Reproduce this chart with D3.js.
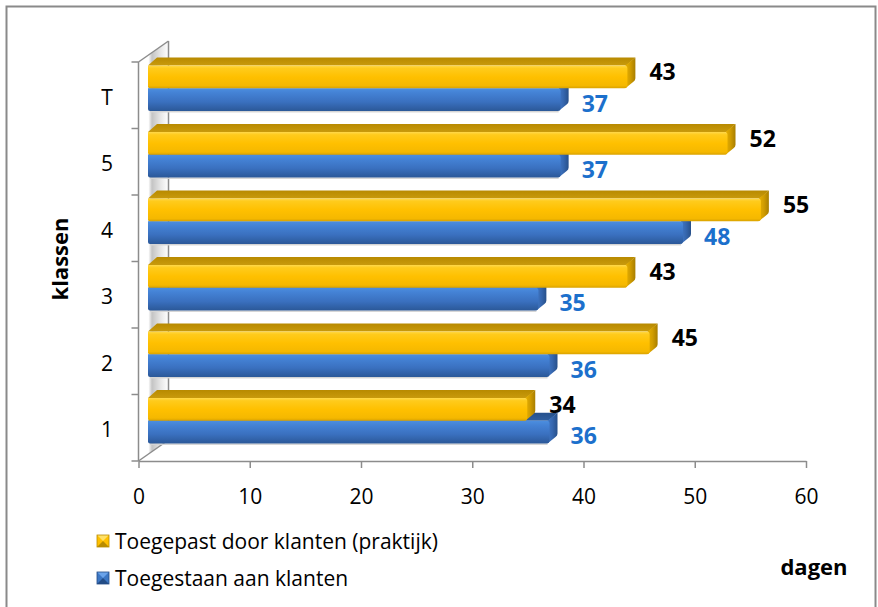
<!DOCTYPE html>
<html>
<head>
<meta charset="utf-8">
<script src="https://cdn.jsdelivr.net/npm/d3@7"></script>
<style>
  html, body { margin: 0; padding: 0; background: #fff; }
  svg { display: block; font-family: "Open Sans", sans-serif; }
</style>
</head>
<body>
<svg id="chart" width="878" height="607"></svg>
<script>
// Category labels, top to bottom
const categories = ["T", "5", "4", "3", "2", "1"];
// Days actually taken by customers (practice)
const toegepast = [43, 52, 55, 43, 45, 34];
// Days granted to customers
const toegestaan = [37, 37, 48, 35, 36, 36];
const xTickValues = [0, 10, 20, 30, 40, 50, 60];
const seriesNames = ["Toegepast door klanten (praktijk)", "Toegestaan aan klanten"];
const xTitle = "dagen";
const yTitle = "klassen";

const svg = d3.select("#chart");
const defs = svg.append("defs");

// outer frame
svg.append("rect")
  .attr("x", 6.5).attr("y", 6.5).attr("width", 869).attr("height", 640)
  .attr("fill", "#fff").attr("stroke", "#8a8a8a").attr("stroke-width", 2);

// scales (front plane of the 3D box)
const x = d3.scaleLinear().domain([0, 60]).range([138.5, 806]);
const y = d3.scaleBand().domain(categories).range([62, 461]);
const wall = { dx: 30, dy: -21 };   // depth of the box
const bar = { shift: 9.5, lift: -7, h: 22.7, dx: 9, dy: -8 };

function grad(id, stops, horizontal) {
  const g = defs.append("linearGradient").attr("id", id)
    .attr("x1", 0).attr("y1", 0)
    .attr("x2", horizontal ? 1 : 0).attr("y2", horizontal ? 0 : 1);
  stops.forEach(([o, c]) => g.append("stop").attr("offset", o).attr("stop-color", c));
}
grad("yFront", [[0, "#FFD84A"], [0.12, "#FFCB1C"], [0.5, "#FFC000"], [0.88, "#F5B800"], [1, "#D9A200"]]);
grad("yTop", [[0, "#B88A00"], [1, "#C99A0C"]]);
grad("yCap", [[0, "#E8B000"], [0.5, "#D09C00"], [1, "#A87E00"]], true);
grad("bFront", [[0, "#4C8EDF"], [0.2, "#4482D5"], [0.6, "#3A70BF"], [1, "#2B5898"]]);
grad("bTop", [[0, "#25518C"], [1, "#2F5E9E"]]);
grad("bCap", [[0, "#4178C6"], [0.5, "#3566AE"], [1, "#27508A"]], true);
grad("wallShade", [[0, "#ffffff"], [0.33, "#ffffff"], [0.45, "#c4c4c4"], [0.75, "#e8e8e8"], [1, "#ffffff"]], true);

const x0 = x(0), yTop = y.range()[0], yBot = y.range()[1];

// left side wall with soft shading
svg.append("path")
  .attr("d", `M${x0},${yTop} L${x0 + wall.dx},${yTop + wall.dy} L${x0 + wall.dx},${yBot + wall.dy} L${x0},${yBot} Z`)
  .attr("fill", "url(#wallShade)");

// box edges
const edge = "#8c8c8c";
const edges = svg.append("g").attr("stroke", edge).attr("stroke-width", 1.5).attr("fill", "none");
edges.append("line").attr("x1", x0 + wall.dx).attr("y1", yTop + wall.dy).attr("x2", x0 + wall.dx).attr("y2", yBot + wall.dy);
edges.append("line").attr("x1", x0).attr("y1", yTop).attr("x2", x0 + wall.dx).attr("y2", yTop + wall.dy);
edges.append("line").attr("x1", x0).attr("y1", yBot).attr("x2", x0 + wall.dx).attr("y2", yBot + wall.dy);

// bars
function drawBar(g, v, top, kind) {
  const xa = x(0) + bar.shift, xb = x(v) + bar.shift;
  const bottom = top + bar.h;
  g.append("path")
    .attr("d", `M${xa},${top} L${xa + bar.dx},${top + bar.dy} L${xb + bar.dx},${top + bar.dy} L${xb},${top} Z`)
    .attr("fill", `url(#${kind}Top)`);
  g.append("path")
    .attr("d", `M${xb - 1},${top} L${xb + bar.dx},${top + bar.dy} L${xb + bar.dx},${bottom + bar.dy - 2} Q${xb + bar.dx},${bottom + bar.dy} ${xb + bar.dx - 2},${bottom + bar.dy + 1.5} L${xb - 1},${bottom} Z`)
    .attr("fill", `url(#${kind}Cap)`);
  g.append("path")
    .attr("d", `M${xa},${top} L${xb - 2},${top} Q${xb + 1},${top} ${xb + 1},${top + 3} L${xb + 1},${bottom - 3} Q${xb + 1},${bottom} ${xb - 2},${bottom} L${xa + 2},${bottom} Q${xa},${bottom} ${xa},${bottom - 2} Z`)
    .attr("fill", `url(#${kind}Front)`);
}

const bars = svg.append("g");
categories.forEach((c, i) => {
  const mid = y(c) + y.bandwidth() / 2 + bar.lift;
  const g = bars.append("g");
  // faint shadow under the group
  g.append("rect").attr("x", x(0) + bar.shift + 2).attr("y", mid + bar.h)
    .attr("width", x(toegestaan[i]) - x(0) - 3).attr("height", 1.5)
    .attr("fill", "#d4d4d4");
  drawBar(g, toegestaan[i], mid, "b");
  drawBar(g, toegepast[i], mid - bar.h, "y");
});

// value labels
const labels = svg.append("g").attr("font-weight", 700).attr("font-size", 23);
categories.forEach((c, i) => {
  const mid = y(c) + y.bandwidth() / 2 + bar.lift;
  labels.append("text")
    .attr("x", x(toegepast[i]) + bar.shift + 23)
    .attr("y", mid - bar.h / 2 - 5).attr("dy", "0.36em")
    .attr("fill", "#000").text(toegepast[i]);
  labels.append("text")
    .attr("x", x(toegestaan[i]) + bar.shift + 22)
    .attr("y", mid + bar.h / 2 + 4).attr("dy", "0.36em")
    .attr("fill", "#1C70CC").text(toegestaan[i]);
});

// x axis
const xAxis = d3.axisBottom(x).tickValues(xTickValues).tickSize(7).tickPadding(21).tickSizeOuter(0);
const gx = svg.append("g").attr("transform", `translate(0,${yBot})`).call(xAxis);
gx.select(".domain").attr("stroke", edge).attr("stroke-width", 1.5);
gx.selectAll(".tick line").attr("stroke", edge).attr("stroke-width", 1.5);
gx.selectAll(".tick text").attr("font-family", "Open Sans, sans-serif").attr("font-size", 21).attr("fill", "#000");

// y axis (category labels between tick marks)
const gy = svg.append("g");
gy.append("line").attr("x1", x0).attr("x2", x0).attr("y1", yTop).attr("y2", yBot)
  .attr("stroke", edge).attr("stroke-width", 1.5);
const bounds = categories.map(c => y(c)).concat([yBot]);
gy.selectAll("line.tk").data(bounds).join("line").attr("class", "tk")
  .attr("x1", x0 - 7).attr("x2", x0).attr("y1", d => d).attr("y2", d => d)
  .attr("stroke", edge).attr("stroke-width", 1.5);
gy.selectAll("text").data(categories).join("text")
  .attr("x", 107).attr("y", d => y(d) + y.bandwidth() / 2 + 2).attr("dy", "0.36em")
  .attr("text-anchor", "middle").attr("font-size", 21).attr("fill", "#000").text(d => d);

// axis titles
svg.append("text").attr("transform", "translate(60,259) rotate(-90)")
  .attr("text-anchor", "middle").attr("dy", "0.36em")
  .attr("font-size", 22).attr("font-weight", 700).text(yTitle);
svg.append("text").attr("x", 814).attr("y", 567)
  .attr("text-anchor", "middle").attr("dy", "0.36em")
  .attr("font-size", 22).attr("font-weight", 700).text(xTitle);

// legend
const legend = svg.append("g");
const legendRows = [
  { name: seriesNames[0], fill: "#FFC000", dark: "#B98C00", light: "#FFE066", y: 541 },
  { name: seriesNames[1], fill: "#3C77C4", dark: "#234C86", light: "#6AA3EA", y: 578 }
];
legendRows.forEach(r => {
  const g = legend.append("g").attr("transform", `translate(97,${r.y - 6})`);
  const s = 12;
  g.append("rect").attr("width", s).attr("height", s).attr("fill", r.fill);
  g.append("path").attr("d", `M0,0 L${s},0 L${s / 2},${s / 2} Z`).attr("fill", r.light);
  g.append("path").attr("d", `M0,${s} L${s},${s} L${s / 2},${s / 2} Z`).attr("fill", r.dark);
  g.append("rect").attr("width", s).attr("height", s).attr("fill", "none").attr("stroke", r.dark).attr("stroke-width", 0.8);
  legend.append("text").attr("x", 115).attr("y", r.y).attr("dy", "0.36em")
    .attr("font-size", 21).attr("fill", "#000").text(r.name);
});
</script>
</body>
</html>
